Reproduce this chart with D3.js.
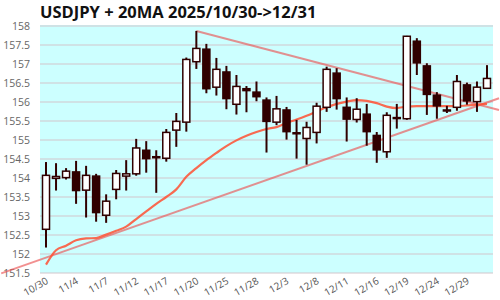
<!DOCTYPE html>
<html>
<head>
<meta charset="utf-8">
<script src="https://cdn.jsdelivr.net/npm/d3@7"></script>
<style>
  body { margin: 0; background: #fff; }
  text { font-family: "Open Sans", "Noto Sans", sans-serif; }
</style>
</head>
<body>
<svg width="500" height="300"></svg>
<script>
// trading days 2025/10/30 -> 12/31
const dates = ["10/30","10/31","11/3","11/4","11/5","11/6","11/7","11/10","11/11","11/12",
  "11/13","11/14","11/17","11/18","11/19","11/20","11/21","11/24","11/25","11/26",
  "11/27","11/28","12/1","12/2","12/3","12/4","12/5","12/8","12/9","12/10",
  "12/11","12/12","12/15","12/16","12/17","12/18","12/19","12/22","12/23","12/24",
  "12/25","12/26","12/29","12/30","12/31"];
const open = [152.65,153.99,154.01,154.16,153.68,154.05,153.02,153.70,154.05,154.11,
  154.73,154.55,154.52,155.26,155.47,157.06,157.39,156.39,156.79,155.94,
  156.35,156.26,156.05,155.47,155.79,155.18,155.04,155.20,155.86,156.76,
  155.86,155.54,155.68,155.12,154.69,155.58,155.56,157.60,156.95,156.18,
  155.78,155.86,156.45,156.01,156.36];
const high = [154.42,154.39,154.26,154.45,154.32,154.11,153.57,154.21,154.47,155.03,
  154.97,154.73,155.29,155.71,157.17,157.87,157.53,157.16,156.95,156.71,
  156.42,156.54,156.12,156.16,155.87,155.53,155.48,155.98,156.93,156.89,
  156.12,156.10,155.95,155.21,155.73,155.95,157.74,157.68,157.02,156.26,
  155.90,156.71,156.51,156.54,156.97];
const low = [152.17,153.67,153.96,153.32,152.96,152.85,152.82,153.44,153.67,154.06,
  154.14,153.61,154.43,154.82,155.22,156.87,156.23,156.17,155.81,155.67,
  155.73,156.02,154.67,155.39,155.01,154.51,154.35,154.91,155.74,155.80,
  154.96,155.46,154.85,154.40,154.53,155.30,155.53,156.71,155.66,155.56,
  155.71,155.77,155.93,155.74,156.36];
const close = [154.07,154.04,154.18,153.67,154.07,153.09,153.39,154.12,154.11,154.79,
  154.51,154.56,155.20,155.49,157.12,157.41,156.35,156.86,156.09,156.41,
  156.30,156.14,155.49,155.82,155.22,155.19,155.33,155.89,156.86,156.09,
  155.55,155.81,155.22,154.74,155.65,155.59,157.73,157.03,156.20,155.90,
  155.79,156.54,156.03,156.39,156.62];
const ma20 = [151.72,152.10,152.22,152.36,152.41,152.42,152.51,152.61,152.72,152.92,
  153.12,153.32,153.50,153.70,154.03,154.26,154.47,154.66,154.84,154.99,
  155.11,155.21,155.29,155.34,155.45,155.54,155.64,155.75,155.86,155.95,
  156.01,156.05,156.03,155.97,155.88,155.84,155.88,155.89,155.89,155.89,
  155.89,155.89,155.91,155.93,155.95];
// trend lines as [index, price] end points
const resistance = [[15, 157.87], [45.2, 155.79]];
const support = [[-4.47, 151.49], [45.2, 156.10]];
const yTicks = d3.range(151.5, 158.01, 0.5);

const w = 500, h = 300;
const margin = { top: 26, bottom: 27, left: 40, right: 7 };
const innerW = w - margin.left - margin.right;
const innerH = h - margin.top - margin.bottom;

const svg = d3.select("svg");

const candles = dates.map((d, i) => ({
  date: d, i: i, o: open[i], h: high[i], l: low[i], c: close[i]
}));

const x = d3.scaleBand()
  .domain(d3.range(dates.length))
  .range([margin.left, margin.left + innerW])
  .padding(0.2);
const bw = x.bandwidth();
const xi = d3.scaleLinear()
  .domain([0, dates.length - 1])
  .range([x(0) + bw / 2, x(dates.length - 1) + bw / 2]);
const y = d3.scaleLinear()
  .domain([151.5, 158])
  .range([margin.top + innerH, margin.top]);

// plot background
svg.append("rect")
  .attr("x", margin.left).attr("y", margin.top - 1)
  .attr("width", innerW).attr("height", innerH + 1)
  .attr("fill", "#ccffff");

// grid
svg.append("g").selectAll("line")
  .data(yTicks)
  .enter().append("line")
  .attr("x1", margin.left).attr("x2", margin.left + innerW)
  .attr("y1", d => y(d)).attr("y2", d => y(d))
  .attr("stroke", "#d2c6cc").attr("stroke-width", 1.2);

// y labels
const yAxis = d3.axisLeft(y).tickValues(yTicks).tickSize(0).tickPadding(10)
  .tickFormat(d3.format("~g"));
const yG = svg.append("g")
  .attr("transform", `translate(${margin.left},0)`)
  .call(yAxis);
yG.select(".domain").remove();
yG.selectAll("text").attr("fill", "#666").style("font-size", "10.5px");

// x labels
svg.append("g").selectAll("text")
  .data(candles.filter(d => d.i % 3 === 0))
  .enter().append("text")
  .attr("transform", d => `translate(${x(d.i) + bw / 2 + 3},283) rotate(-30)`)
  .attr("text-anchor", "end")
  .attr("fill", "#555")
  .style("font-size", "10px")
  .text(d => d.date);

// trend lines
const line = d3.line().x(d => xi(d[0])).y(d => y(d[1]));
[resistance, support].forEach(t => {
  svg.append("path")
    .attr("d", line(t))
    .attr("fill", "none")
    .attr("stroke", "rgba(235,85,85,0.65)")
    .attr("stroke-width", 2);
});

// 20MA
const maLine = d3.line()
  .x((d, i) => xi(i))
  .y(d => y(d))
  .curve(d3.curveMonotoneX);
svg.append("path")
  .attr("d", maLine(ma20))
  .attr("fill", "none")
  .attr("stroke", "rgba(255,80,50,0.85)")
  .attr("stroke-width", 2.2);

// candles
const dark = "#300000";
const cg = svg.append("g");
cg.selectAll("line")
  .data(candles)
  .enter().append("line")
  .attr("x1", d => x(d.i) + bw / 2).attr("x2", d => x(d.i) + bw / 2)
  .attr("y1", d => y(d.h)).attr("y2", d => y(d.l))
  .attr("stroke", dark).attr("stroke-width", 2);
cg.selectAll("rect")
  .data(candles)
  .enter().append("rect")
  .attr("x", d => x(d.i) + 0.5)
  .attr("width", bw - 1)
  .attr("y", d => y(Math.max(d.o, d.c)))
  .attr("height", d => Math.max(1, Math.abs(y(d.o) - y(d.c))))
  .attr("fill", d => d.c >= d.o ? "#fff" : dark)
  .attr("stroke", dark).attr("stroke-width", 1.5);

// title
svg.append("text")
  .attr("x", 40).attr("y", 18)
  .style("font-size", "16.5px").style("font-weight", "bold")
  .attr("fill", "#111")
  .text("USDJPY + 20MA 2025/10/30->12/31");
</script>
</body>
</html>
